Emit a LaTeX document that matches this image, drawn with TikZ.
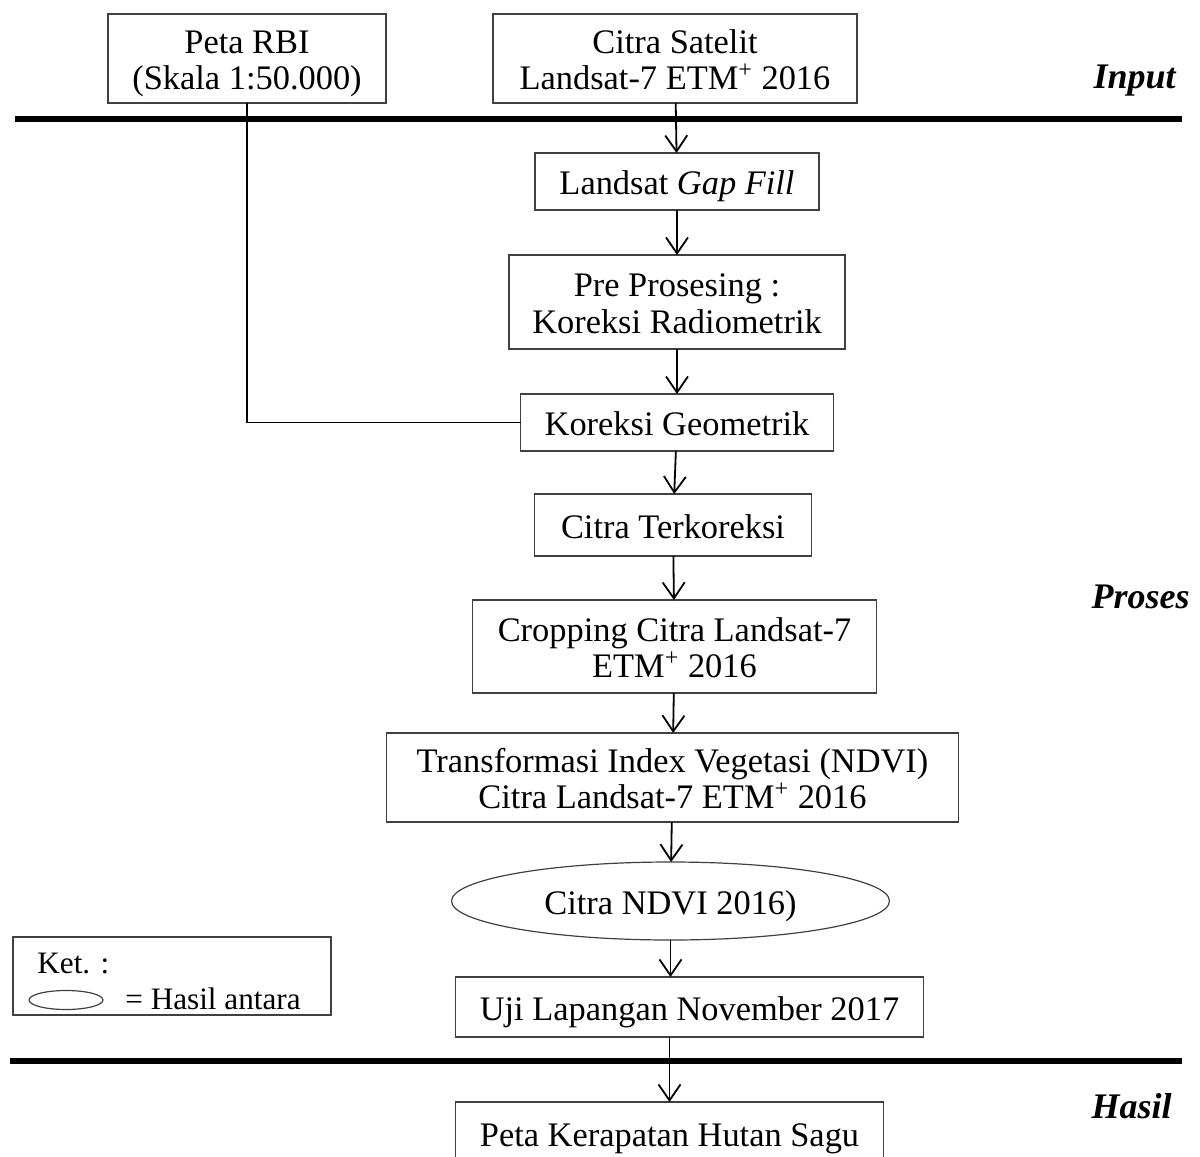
\documentclass[tikz,border=0pt]{standalone}
\usepackage{fontspec}
\setmainfont{Liberation Serif}
\usepackage{tikz}
\usetikzlibrary{positioning}
\usetikzlibrary{shapes.geometric}
\usetikzlibrary{arrows.meta}

\begin{document}
\begin{tikzpicture}[
    x=0.5pt, y=-0.5pt,
    node distance=22.5pt and 50pt,
    mybox/.style={draw=black!75,line width=0.6pt,rectangle,align=center,inner sep=0pt,outer sep=0pt,
      font=\fontsize{17.2}{18.2}\selectfont,text height=17pt,text depth=4pt},
    twoline/.style={text height=35.2pt},
    myell/.style={mybox,ellipse},
    legell/.style={draw=black!75,line width=0.6pt,ellipse,inner sep=0pt,minimum width=37pt,minimum height=9.5pt},
    legtxt/.style={inner sep=0pt,anchor=west,font=\fontsize{15.6}{17}\selectfont},
    stage/.style={font=\fontsize{18}{20}\selectfont\bfseries\itshape,anchor=east,inner sep=0pt},
    arr/.style={-{Straight Barb[length=8pt,width=11pt]},line width=0.9pt},
    rule/.style={line width=3pt}
    ]

    \useasboundingbox (0,0) rectangle (1200,1157);

    \node[mybox, twoline, minimum width=182pt, minimum height=44.5pt] (sat) at (675,58.5) {Citra Satelit\\Landsat-7 ETM\textsuperscript{+} 2016};
    \node[mybox, twoline, minimum width=139pt, minimum height=44.5pt, left=53.5pt of sat] (rbi) {Peta RBI\\(Skala 1:50.000)};
    \node[mybox, minimum width=142pt, minimum height=28.5pt, below=25pt of sat, xshift=1pt] (gap) {Landsat \textit{Gap Fill}};
    \node[mybox, twoline, minimum width=168pt, minimum height=47pt, below=of gap] (pre) {Pre Prosesing :\\Koreksi Radiometrik};
    \node[mybox, minimum width=156.5pt, minimum height=28.5pt, below=of pre] (geo) {Koreksi Geometrik};
    \node[mybox, minimum width=138.5pt, minimum height=31pt, below=21.5pt of geo, xshift=-2pt] (terk) {Citra Terkoreksi};
    \node[mybox, twoline, minimum width=202pt, minimum height=46.5pt, below=22pt of terk, xshift=0.75pt] (crop) {Cropping Citra Landsat-7\\ETM\textsuperscript{+} 2016};
    \node[mybox, twoline, minimum width=286pt, minimum height=44.5pt, below=20pt of crop, xshift=-1pt] (ndvi) {Transformasi Index Vegetasi (NDVI)\\Citra Landsat-7 ETM\textsuperscript{+} 2016};
    \node[myell, minimum width=219pt, minimum height=39pt, below=20pt of ndvi, xshift=-1pt] (cndvi) {Citra NDVI 2016)};
    \node[mybox, minimum width=234pt, minimum height=30pt, below=18.5pt of cndvi, xshift=9.5pt] (uji) {Uji Lapangan November 2017};
    \node[mybox, minimum width=214pt, minimum height=31.5pt, below=32.5pt of uji, xshift=-10pt] (peta) {Peta Kerapatan Hutan Sagu};

    \node[mybox, minimum width=159pt, minimum height=39pt] (ket) at (172,976) {};
    \node[legtxt] (kettxt) at (37,963) {Ket. :};
    \node[legell] (ketell) at (66,1000) {};
    \node[legtxt] (kethasil) at (125,999) {= Hasil antara};

    \node[stage] (inp) at (1176,81) {Input};
    \node[stage] (pros) at (1190,597) {Proses};
    \node[stage] (has) at (1172,1106) {Hasil};

    \draw[rule] (15,119) -- (1182,119);
    \draw[rule] (10,1061) -- (1182,1061);

    \draw[line width=0.7pt] (rbi.south) |- (geo.west);
    \draw[arr] (sat) -- (gap);
    \draw[arr] (gap) -- (pre);
    \draw[arr] (pre) -- (geo);
    \draw[arr] (geo) -- (terk);
    \draw[arr] (terk) -- (crop);
    \draw[arr] (crop) -- (ndvi);
    \draw[arr] (ndvi) -- (cndvi);
    \draw[arr] (cndvi.south) -- (cndvi.south |- uji.north);
    \draw[arr] (peta.north |- uji.south) -- (peta.north);

  \end{tikzpicture}
\end{document}
